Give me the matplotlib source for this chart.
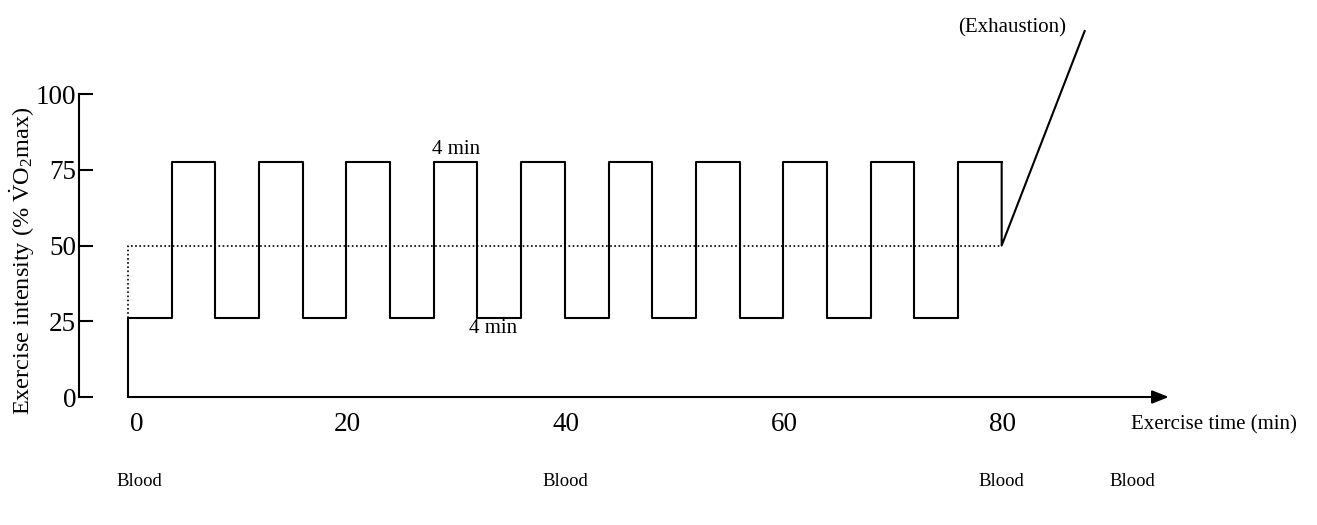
import matplotlib
matplotlib.use("Agg")
import matplotlib.pyplot as plt
from matplotlib.transforms import ScaledTranslation

plt.rcParams["font.family"] = ["Liberation Serif", "DejaVu Serif"]
plt.rcParams["mathtext.fontset"] = "custom"
plt.rcParams["mathtext.rm"] = "Liberation Serif"
plt.rcParams["mathtext.it"] = "Liberation Serif:italic"

# exercise protocol: alternating 4-min bouts, then ramp to exhaustion
bout_start = [0, 4, 8, 12, 16, 20, 24, 28, 32, 36, 40, 44, 48, 52, 56, 60, 64, 68, 72, 76]
bout_level = [26, 77.5, 26, 77.5, 26, 77.5, 26, 77.5, 26, 77.5,
              26, 77.5, 26, 77.5, 26, 77.5, 26, 77.5, 26, 77.5]
end_time = 80
ramp_time = [80, 80, 87.6]
ramp_level = [77.5, 50, 120.8]
mean_time = [0, 0, 80]
mean_level = [26, 50, 50]

x_ticks = [0, 20, 40, 60, 80]
y_ticks = [0, 25, 50, 75, 100]
blood_times = [1, 40, 80, 92]

fig = plt.figure(figsize=(13.17, 5.25), dpi=100)
ax = fig.add_axes([0.060, 0.2438, 0.8664, 0.7214])
ax.set_xlim(-4.49, 100)
ax.set_ylim(0, 125)

lw = 1.5
ax.plot([0] + bout_start + [end_time], [0] + bout_level + [bout_level[-1]],
        drawstyle="steps-post", color="black", lw=lw, clip_on=False)
ax.plot(ramp_time, ramp_level, color="black", lw=lw, clip_on=False)
ax.plot(mean_time, mean_level, color="black", lw=1.2, ls=(0, (1, 1.5)))

# time axis as an arrow
ax.annotate("", xy=(95.3, 0), xytext=(0, 0),
            arrowprops=dict(arrowstyle="-|>,head_length=1.0,head_width=0.4",
                            color="black", lw=lw, shrinkA=0, shrinkB=0),
            annotation_clip=False)

for s in ["top", "right", "bottom"]:
    ax.spines[s].set_visible(False)
ax.spines["left"].set_bounds(0, 100)
ax.spines["left"].set_linewidth(lw)

ax.set_yticks(y_ticks)
ax.tick_params(axis="y", direction="in", length=10, width=lw, pad=2, labelsize=19.5)
ax.set_xticks(x_ticks)
ax.tick_params(axis="x", length=0, pad=11, labelsize=19.5)
# "0" sits a little right of its tick in the original
for i, lab in enumerate(ax.get_xticklabels()):
    dx = 9 if i == 0 else 1
    lab.set_transform(lab.get_transform() + ScaledTranslation(dx / 100, 0, fig.dpi_scale_trans))

fs = 15
ax.text(30, 81.8, "4 min", ha="center", va="center", fontsize=fs)
ax.text(33.4, 22.6, "4 min", ha="center", va="center", fontsize=fs)
ax.text(81.0, 122.0, "(Exhaustion)", ha="center", va="center", fontsize=fs)
ax.text(99.4, -9.2, "Exercise time (min)", ha="center", va="center", fontsize=fs,
        clip_on=False)

for t in blood_times:
    ax.text(t, -28.0, "Blood", ha="center", va="center", fontsize=13.5, clip_on=False)

fig.text(22 / 1317, 1 - 261 / 525,
         r"Exercise intensity (% $\dot{\mathrm{V}}$O$_2$max)",
         rotation=90, ha="center", va="center", fontsize=17.5)

fig.savefig("out.png", dpi=100)
